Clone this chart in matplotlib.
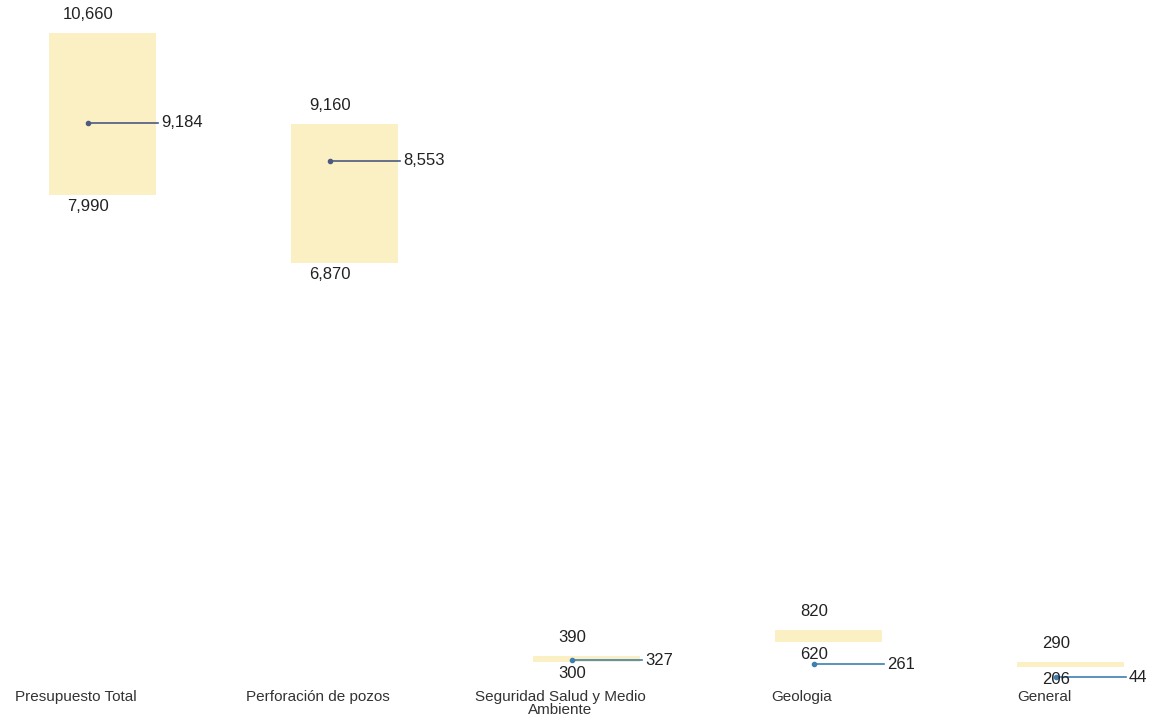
import matplotlib
matplotlib.use("Agg")
import matplotlib.pyplot as plt
from matplotlib import font_manager as fm

categories = ["Presupuesto Total", "Perforación de pozos",
              "Seguridad Salud y Medio\nAmbiente", "Geologia", "General"]
low_values = [7990, 6870, 300, 620, 206]
high_values = [10660, 9160, 390, 820, 290]
point_values = [9184, 8553, 327, 261, 44]

names = {f.name for f in fm.fontManager.ttflist}
fam = "Liberation Sans Narrow" if "Liberation Sans Narrow" in names else "Liberation Sans"
plt.rcParams['font.family'] = [fam, 'DejaVu Sans']

W, H = 1156, 721
fig = plt.figure(figsize=(W / 100, H / 100), dpi=100)
ax = fig.add_axes([0, 0, 1, 1])
ax.set_axis_off()

# scale: 0 at y=680px from top, 10660 at 33px
upp = 10660 / (680 - 33)
ax.set_ylim(-(H - 680) * upp, 10660 + 33 * upp)
ax.set_xlim(-88 / 242, (W - 88) / 242)

bar_color = "#FBEFC4"
line_colors = ["#4C5A80", "#4C5A80", "#3F7FB0", "#3F7FB0", "#3F7FB0"]

fs = 12
for i, (lo, hi, pt) in enumerate(zip(low_values, high_values, point_values)):
    ax.bar(i + 0.06, hi - lo, bottom=lo, width=0.44, color=bar_color,
           edgecolor="none", zorder=1)
    ax.plot([i, i + 0.29], [pt, pt], color=line_colors[i], lw=1.2, zorder=2)
    ax.plot([i], [pt], marker="o", ms=3, color=line_colors[i], zorder=3)
    ax.annotate(f"{pt:,}", (i + 0.29, pt), xytext=(2, 0), textcoords="offset points",
                ha="left", va="center", fontsize=fs, color="#222222")
    ax.annotate(f"{hi:,}", (i, hi), xytext=(0, 8), textcoords="offset points",
                ha="center", va="bottom", fontsize=fs, color="#222222")
    ax.annotate(f"{lo:,}", (i, lo), xytext=(0, -3), textcoords="offset points",
                ha="center", va="top", fontsize=fs, color="#222222")
    ax.annotate(categories[i], (i - 0.05, 0), xytext=(0, -7), textcoords="offset points",
                ha="center", va="top", fontsize=11, color="#333333",
                linespacing=0.95)

fig.savefig("out.png", dpi=100)
